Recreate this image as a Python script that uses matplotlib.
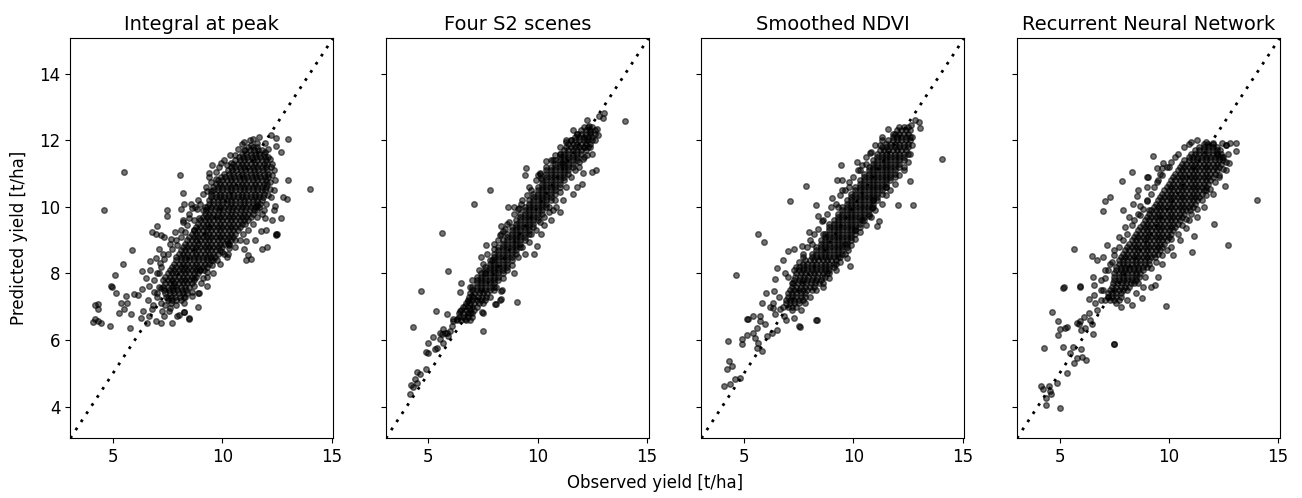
import numpy as np
import matplotlib
matplotlib.use("Agg")
import matplotlib.pyplot as plt

titles = ["Integral at peak", "Four S2 scenes", "Smoothed NDVI", "Recurrent Neural Network"]

# (observed, predicted) pairs: the scattered points
int_edge = [
    (5.5, 11.05), (4.6, 9.9), (14.0, 10.55), (13.0, 12.05), (13.0, 10.8), (12.95, 10.25), (12.8, 10.3),
    (12.5, 9.2), (12.45, 9.18), (12.05, 8.8), (11.8, 8.75), (11.2, 8.55), (11.1, 8.4), (11.3, 8.45),
    (10.2, 8.5), (10.25, 8.6), (9.9, 8.3), (9.6, 8.4), (8.5, 6.65), (8.0, 6.75), (8.25, 6.85),
    (5.8, 6.35), (4.85, 6.42), (4.2, 7.05), (4.3, 7.08), (4.3, 6.92), (4.1, 6.55), (4.2, 6.62),
    (4.3, 6.58), (4.45, 6.5), (5.1, 7.95), (5.45, 8.3), (5.88, 8.72), (4.9, 7.62), (4.95, 7.6),
    (5.13, 7.42), (8.07, 10.96), (8.22, 10.42), (12.67, 11.64), (12.44, 11.82), (12.21, 12.17),
    (12.48, 12.07), (12.39, 11.12), (12.42, 10.82), (12.39, 10.52), (12.39, 9.92), (12.67, 9.66),
    (12.42, 10.04), (12.48, 9.16), (11.78, 9.27), (11.1, 8.97), (10.26, 8.92), (10.3, 8.77),
    (11.98, 9.67), (11.6, 10.02), (11.9, 9.92), (9.39, 11.02), (9.55, 11.27), (9.47, 10.47),
    (9.32, 10.47), (9.93, 11.32), (10.38, 11.32), (8.63, 9.97), (8.56, 10.1), (8.25, 10.1),
    (8.1, 9.94), (7.46, 9.9), (7.49, 9.74), (8.19, 9.6), (8.5, 9.67), (8.86, 9.94), (8.94, 9.67),
    (7.82, 9.24), (7.0, 9.42), (6.79, 9.26), (6.96, 9.2), (7.22, 9.16), (7.34, 9.1),
    (5.36, 7.12), (5.66, 7.12), (5.51, 6.92), (5.28, 6.82), (5.82, 6.77), (5.59, 7.32), (5.97, 7.37),
    (6.27, 6.67), (6.39, 6.87), (6.65, 6.72), (6.58, 6.52), (6.96, 6.57), (6.8, 6.92), (7.26, 6.87),
    (6.15, 7.34), (6.35, 7.52), (6.65, 7.62), (6.88, 7.44), (6.5, 7.87), (6.35, 8.07), (6.7, 8.37),
    (6.96, 8.47), (7.16, 8.32), (7.34, 6.72), (7.57, 6.87), (7.95, 6.72), (8.25, 6.84), (8.48, 6.62),
    (7.72, 6.52), (7.19, 6.52), (8.25, 7.12), (8.63, 7.32), (8.94, 7.42), (8.71, 7.62), (9.01, 7.72),
    (9.29, 7.62), (7.52, 7.27), (7.67, 7.12), (7.8, 7.62), (10.99, 11.72), (11.3, 11.87),
    (11.6, 11.92), (11.98, 11.92), (6.9, 7.8), (7.1, 8.0), (7.0, 7.3), (7.2, 7.55), (6.7, 8.1),
    (7.3, 8.6), (7.1, 8.75), (6.6, 7.2), (7.4, 7.05), (6.85, 7.05), (7.6, 8.9), (7.9, 9.0),
    (8.1, 9.3), (8.4, 9.45), (8.7, 9.3), (9.1, 9.9), (8.9, 10.2), (9.2, 10.0), (9.5, 10.75),
    (9.7, 11.05), (10.1, 11.4), (10.6, 11.55), (10.9, 11.9), (11.4, 12.05), (11.7, 12.1),
    (12.1, 11.5), (12.3, 11.3), (12.2, 10.75), (12.25, 10.3), (12.3, 9.6), (12.0, 9.3), (11.5, 9.0),
    (11.0, 8.75), (10.6, 8.8), (10.0, 8.65), (9.6, 8.0), (9.3, 7.9), (8.9, 7.0), (8.7, 7.85), (9.0, 8.1),
]
# points hugging the dense centre
int_halo = [
    (7.0, 8.0), (7.2, 8.2), (7.35, 8.45), (7.5, 8.6), (7.7, 8.75), (7.65, 9.05), (7.95, 8.85),
    (8.1, 9.1), (8.3, 9.25), (8.2, 9.55), (8.5, 9.8), (8.7, 9.6), (8.75, 10.0), (9.0, 10.1),
    (9.1, 10.4), (9.25, 10.6), (9.4, 10.9), (9.7, 10.85), (9.85, 11.2), (10.2, 11.25), (10.35, 11.55),
    (10.7, 11.75), (11.0, 11.95), (11.25, 12.0), (8.9, 7.4), (9.1, 7.85), (9.3, 8.05), (9.55, 8.25),
    (9.75, 8.4), (10.1, 8.6), (10.3, 8.85), (10.8, 9.0), (10.95, 9.2), (11.2, 9.3), (11.4, 9.5),
    (11.6, 9.7), (11.8, 9.8), (12.0, 10.1), (12.1, 10.35), (12.2, 10.55), (12.3, 10.95), (12.25, 11.2),
    (12.2, 11.45), (12.1, 11.75), (11.95, 11.65), (7.2, 7.1), (7.0, 7.4), (7.1, 7.6), (7.6, 6.95),
    (7.9, 7.05), (8.3, 7.3), (8.6, 7.45),
]
# dense centre of the cloud: (predicted, [observed values at that predicted level])
int_core = [
    (7.2, [7.5, 7.7, 7.9, 8.1]),
    (7.3, [7.45, 7.65, 7.85, 8.05, 8.25]),
    (7.4, [7.4, 7.6, 7.8, 8.0, 8.2, 8.4]),
    (7.5, [7.35, 7.55, 7.75, 7.95, 8.15, 8.35]),
    (7.6, [7.3, 7.5, 7.7, 7.9, 8.1, 8.3, 8.5]),
    (7.7, [7.4, 7.6, 7.8, 8.0, 8.2, 8.4, 8.6]),
    (7.8, [7.3, 7.5, 7.7, 7.9, 8.1, 8.3, 8.5, 8.7]),
    (7.9, [7.4, 7.6, 7.8, 8.0, 8.2, 8.4, 8.6, 8.8]),
    (8.0, [7.5, 7.7, 7.9, 8.1, 8.3, 8.5, 8.7, 8.9]),
    (8.1, [7.6, 7.8, 8.0, 8.2, 8.4, 8.6, 8.8, 9.0, 9.15]),
    (8.2, [7.7, 7.9, 8.1, 8.3, 8.5, 8.7, 8.9, 9.1, 9.3]),
    (8.3, [7.8, 8.0, 8.2, 8.4, 8.6, 8.8, 9.0, 9.2, 9.4]),
    (8.4, [7.9, 8.1, 8.3, 8.5, 8.7, 8.9, 9.1, 9.3, 9.5]),
    (8.5, [7.9, 8.1, 8.3, 8.5, 8.7, 8.9, 9.1, 9.3, 9.5, 9.65]),
    (8.6, [8.0, 8.2, 8.4, 8.6, 8.8, 9.0, 9.2, 9.4, 9.6, 9.8]),
    (8.7, [8.1, 8.3, 8.5, 8.7, 8.9, 9.1, 9.3, 9.5, 9.7, 9.9]),
    (8.8, [8.2, 8.4, 8.6, 8.8, 9.0, 9.2, 9.4, 9.6, 9.8, 10.0]),
    (8.9, [8.3, 8.5, 8.7, 8.9, 9.1, 9.3, 9.5, 9.7, 9.9, 10.1, 10.3]),
    (9.0, [8.4, 8.6, 8.8, 9.0, 9.2, 9.4, 9.6, 9.8, 10.0, 10.2, 10.4, 10.6]),
    (9.1, [8.5, 8.7, 8.9, 9.1, 9.3, 9.5, 9.7, 9.9, 10.1, 10.3, 10.5]),
    (9.2, [8.6, 8.8, 9.0, 9.2, 9.4, 9.6, 9.8, 10.0, 10.2, 10.4, 10.6]),
    (9.3, [8.7, 8.9, 9.1, 9.3, 9.5, 9.7, 9.9, 10.1, 10.3, 10.5, 10.7]),
    (9.4, [8.8, 9.0, 9.2, 9.4, 9.6, 9.8, 10.0, 10.2, 10.4, 10.6, 10.8]),
    (9.5, [8.9, 9.1, 9.3, 9.5, 9.7, 9.9, 10.1, 10.3, 10.5, 10.7, 10.9, 11.05]),
    (9.6, [9.0, 9.2, 9.4, 9.6, 9.8, 10.0, 10.2, 10.4, 10.6, 10.8, 11.0, 11.2]),
    (9.7, [9.1, 9.3, 9.5, 9.7, 9.9, 10.1, 10.3, 10.5, 10.7, 10.9, 11.1, 11.3]),
    (9.8, [9.2, 9.4, 9.6, 9.8, 10.0, 10.2, 10.4, 10.6, 10.8, 11.0, 11.2, 11.4]),
    (9.9, [9.25, 9.45, 9.65, 9.85, 10.05, 10.25, 10.45, 10.65, 10.85, 11.05, 11.25, 11.45, 11.6]),
    (10.0, [9.3, 9.5, 9.7, 9.9, 10.1, 10.3, 10.5, 10.7, 10.9, 11.1, 11.3, 11.5, 11.7]),
    (10.1, [9.4, 9.6, 9.8, 10.0, 10.2, 10.4, 10.6, 10.8, 11.0, 11.2, 11.4, 11.6, 11.75]),
    (10.2, [9.4, 9.6, 9.8, 10.0, 10.2, 10.4, 10.6, 10.8, 11.0, 11.2, 11.4, 11.6, 11.8]),
    (10.3, [9.5, 9.7, 9.9, 10.1, 10.3, 10.5, 10.7, 10.9, 11.1, 11.3, 11.5, 11.7, 11.85]),
    (10.4, [9.5, 9.7, 9.9, 10.1, 10.3, 10.5, 10.7, 10.9, 11.1, 11.3, 11.5, 11.7, 11.9]),
    (10.5, [9.6, 9.8, 10.0, 10.2, 10.4, 10.6, 10.8, 11.0, 11.2, 11.4, 11.6, 11.8, 11.95]),
    (10.6, [9.6, 9.8, 10.0, 10.2, 10.4, 10.6, 10.8, 11.0, 11.2, 11.4, 11.6, 11.8, 12.0]),
    (10.7, [9.7, 9.9, 10.1, 10.3, 10.5, 10.7, 10.9, 11.1, 11.3, 11.5, 11.7, 11.9, 12.05]),
    (10.8, [9.8, 10.0, 10.2, 10.4, 10.6, 10.8, 11.0, 11.2, 11.4, 11.6, 11.8, 12.0]),
    (10.9, [9.95, 10.15, 10.35, 10.55, 10.75, 10.95, 11.15, 11.35, 11.55, 11.75, 11.95, 12.1]),
    (11.0, [10.1, 10.3, 10.5, 10.7, 10.9, 11.1, 11.3, 11.5, 11.7, 11.9, 12.1]),
    (11.1, [10.25, 10.45, 10.65, 10.85, 11.05, 11.25, 11.45, 11.65, 11.85, 12.05]),
    (11.2, [10.4, 10.6, 10.8, 11.0, 11.2, 11.4, 11.6, 11.8, 12.0]),
    (11.3, [10.5, 10.7, 10.9, 11.1, 11.3, 11.5, 11.7, 11.9, 12.05]),
    (11.4, [10.6, 10.8, 11.0, 11.2, 11.4, 11.6, 11.8, 12.0]),
    (11.5, [10.75, 10.95, 11.15, 11.35, 11.55, 11.75, 11.95]),
    (11.6, [10.9, 11.1, 11.3, 11.5, 11.7, 11.9]),
    (11.7, [11.05, 11.25, 11.45, 11.65, 11.8]),
    (11.8, [11.2, 11.4, 11.6]),
]

s2_edge = [
    (13.99, 12.58), (13.03, 12.82), (12.99, 12.67), (12.8, 12.72), (12.27, 12.62), (12.35, 12.42),
    (12.77, 12.17), (12.47, 11.6), (12.27, 11.57), (12.05, 11.44), (12.65, 11.1), (12.5, 11.04),
    (12.05, 11.02), (12.02, 10.7), (11.29, 11.94), (10.38, 11.37), (10.71, 11.42), (11.11, 11.32),
    (9.44, 11.16), (9.43, 10.97), (10.08, 11.02), (10.15, 10.87), (7.83, 10.52), (7.08, 10.1),
    (8.64, 9.99), (9.25, 10.1), (9.15, 9.98), (5.62, 9.22), (7.62, 8.85), (8.34, 9.42), (8.41, 9.27),
    (8.26, 9.17), (5.91, 8.06), (4.65, 7.48), (5.35, 6.86), (4.29, 6.38), (7.5, 6.28), (8.11, 7.08),
    (8.3, 7.22), (9.05, 7.14), (8.33, 7.48), (6.44, 7.44), (6.47, 7.72), (7.5, 6.82), (6.9, 6.82),
    (6.67, 6.62), (5.83, 6.77), (6.14, 6.62), (6.06, 6.42), (5.83, 6.22), (5.23, 6.1), (5.53, 6.22),
    (5.65, 6.32), (4.97, 5.92), (4.9, 5.64), (5.0, 5.6), (5.3, 5.72), (5.41, 5.77), (4.9, 5.14),
    (4.62, 4.97), (4.47, 5.04), (4.37, 4.82), (4.2, 4.64), (4.27, 4.6), (4.14, 4.37), (4.47, 4.72),
    (5.61, 6.17), (5.76, 6.22), (5.99, 6.27), (5.91, 6.12), (5.53, 6.02), (5.68, 5.92), (6.14, 6.57),
    (6.29, 6.62), (6.44, 6.87), (6.67, 7.02), (6.82, 7.17), (6.97, 7.32), (8.03, 7.07), (8.29, 7.19),
    (8.38, 7.49), (7.47, 6.84), (9.84, 8.6), (10.15, 9.2), (10.3, 9.45), (10.7, 9.9), (11.0, 9.85),
    (11.15, 10.2), (11.6, 10.4), (11.8, 10.6), (10.85, 10.0), (10.6, 9.6), (9.95, 8.82), (9.4, 8.6),
    (8.9, 8.0), (7.9, 8.4), (7.6, 8.0), (7.2, 7.9), (6.9, 7.6), (7.4, 8.5), (8.0, 8.9), (8.6, 9.5),
    (8.9, 10.0), (9.6, 10.6), (10.0, 10.95), (10.4, 11.2), (11.0, 11.6), (11.5, 12.0), (11.8, 12.2),
    (12.2, 12.0), (12.4, 12.25), (11.9, 11.2), (12.1, 11.8), (10.5, 10.0), (9.7, 9.2),
]
s2_halo = [
    (7.0, 7.8), (7.3, 8.1), (7.5, 8.3), (7.7, 8.6), (8.0, 8.75), (8.2, 9.0), (8.3, 9.2), (8.5, 9.35),
    (8.7, 9.55), (8.9, 9.8), (9.1, 9.95), (9.3, 10.2), (9.5, 10.35), (9.7, 10.5), (9.9, 10.8),
    (10.1, 11.0), (10.4, 11.1), (10.6, 11.4), (10.8, 11.55), (11.0, 11.8), (11.3, 12.0), (11.6, 12.3),
    (7.8, 7.3), (8.1, 7.6), (8.4, 7.85), (8.6, 8.1), (8.8, 8.25), (9.1, 8.5), (9.3, 8.8), (9.6, 8.95),
    (9.9, 9.3), (10.1, 9.55), (10.3, 9.7), (10.5, 9.85), (10.8, 10.2), (11.0, 10.45), (11.3, 10.6),
    (11.5, 10.9), (11.7, 11.1), (11.9, 11.35), (12.1, 11.5), (12.4, 11.8), (12.6, 12.0), (12.7, 12.35),
]
s2_core = [
    (6.6, [6.3, 6.5, 6.7, 6.9]),
    (6.7, [6.4, 6.6, 6.8, 7.0]),
    (6.8, [6.4, 6.6, 6.8, 7.0]),
    (6.9, [6.5, 6.7, 6.9, 7.1]),
    (7.0, [6.6, 6.8, 7.0, 7.2]),
    (7.1, [6.7, 6.9, 7.1, 7.3, 7.5]),
    (7.2, [6.8, 7.0, 7.2, 7.4, 7.6]),
    (7.3, [6.85, 7.05, 7.25, 7.45, 7.65]),
    (7.4, [6.9, 7.1, 7.3, 7.5, 7.7]),
    (7.5, [7.0, 7.2, 7.4, 7.6, 7.8, 8.0]),
    (7.6, [7.0, 7.2, 7.4, 7.6, 7.8, 8.0]),
    (7.7, [7.2, 7.4, 7.6, 7.8, 8.0]),
    (7.8, [7.2, 7.4, 7.6, 7.8, 8.0, 8.2]),
    (7.9, [7.4, 7.6, 7.8, 8.0, 8.2]),
    (8.0, [7.4, 7.6, 7.8, 8.0, 8.2, 8.4]),
    (8.1, [7.6, 7.8, 8.0, 8.2, 8.4]),
    (8.2, [7.6, 7.8, 8.0, 8.2, 8.4, 8.6]),
    (8.3, [7.8, 8.0, 8.2, 8.4, 8.6]),
    (8.4, [7.8, 8.0, 8.2, 8.4, 8.6, 8.8]),
    (8.5, [8.0, 8.2, 8.4, 8.6, 8.8]),
    (8.6, [8.0, 8.2, 8.4, 8.6, 8.8, 9.0]),
    (8.7, [8.2, 8.4, 8.6, 8.8, 9.0]),
    (8.8, [8.2, 8.4, 8.6, 8.8, 9.0, 9.2]),
    (8.9, [8.4, 8.6, 8.8, 9.0, 9.2]),
    (9.0, [8.4, 8.6, 8.8, 9.0, 9.2, 9.4]),
    (9.1, [8.6, 8.8, 9.0, 9.2, 9.4]),
    (9.2, [8.6, 8.8, 9.0, 9.2, 9.4, 9.6]),
    (9.3, [8.8, 9.0, 9.2, 9.4, 9.6]),
    (9.4, [8.8, 9.0, 9.2, 9.4, 9.6, 9.8]),
    (9.5, [9.0, 9.2, 9.4, 9.6, 9.8]),
    (9.6, [9.0, 9.2, 9.4, 9.6, 9.8, 10.0]),
    (9.7, [9.2, 9.4, 9.6, 9.8, 10.0]),
    (9.8, [9.2, 9.4, 9.6, 9.8, 10.0, 10.2]),
    (9.9, [9.4, 9.6, 9.8, 10.0, 10.2]),
    (10.0, [9.4, 9.6, 9.8, 10.0, 10.2, 10.4]),
    (10.1, [9.6, 9.8, 10.0, 10.2, 10.4]),
    (10.2, [9.6, 9.8, 10.0, 10.2, 10.4, 10.6]),
    (10.3, [9.8, 10.0, 10.2, 10.4, 10.6]),
    (10.4, [9.8, 10.0, 10.2, 10.4, 10.6, 10.8]),
    (10.5, [10.0, 10.2, 10.4, 10.6, 10.8]),
    (10.6, [10.0, 10.2, 10.4, 10.6, 10.8, 11.0]),
    (10.7, [10.2, 10.4, 10.6, 10.8, 11.0]),
    (10.8, [10.2, 10.4, 10.6, 10.8, 11.0, 11.2]),
    (10.9, [10.4, 10.6, 10.8, 11.0, 11.2]),
    (11.0, [10.4, 10.6, 10.8, 11.0, 11.2, 11.4]),
    (11.1, [10.6, 10.8, 11.0, 11.2, 11.4]),
    (11.2, [10.6, 10.8, 11.0, 11.2, 11.4, 11.6]),
    (11.3, [10.8, 11.0, 11.2, 11.4, 11.6]),
    (11.4, [10.8, 11.0, 11.2, 11.4, 11.6, 11.8]),
    (11.5, [11.0, 11.2, 11.4, 11.6, 11.8]),
    (11.6, [11.0, 11.2, 11.4, 11.6, 11.8, 12.0]),
    (11.7, [11.2, 11.4, 11.6, 11.8, 12.0, 12.2]),
    (11.8, [11.3, 11.5, 11.7, 11.9, 12.1, 12.3]),
    (11.9, [11.4, 11.6, 11.8, 12.0, 12.2, 12.4]),
    (12.0, [11.5, 11.7, 11.9, 12.1, 12.3, 12.5]),
    (12.1, [11.7, 11.9, 12.1, 12.3, 12.5]),
    (12.2, [11.8, 12.0, 12.2, 12.4, 12.6]),
    (12.3, [12.0, 12.2, 12.4, 12.6]),
    (12.4, [12.1, 12.3, 12.5]),
]

ndvi_edge = [
    (14.04, 11.44), (13.05, 12.37), (13.0, 12.54), (12.82, 12.6), (12.59, 10.77), (12.06, 10.07),
    (12.71, 10.07), (11.21, 11.86), (10.75, 11.62), (10.15, 11.36), (9.44, 11.26), (9.24, 10.82),
    (9.47, 10.82), (9.47, 10.52), (9.04, 10.26), (7.85, 10.64), (7.09, 10.18), (8.28, 10.07),
    (8.4, 9.72), (8.55, 9.57), (7.97, 9.24), (5.63, 9.18), (5.93, 8.96), (4.62, 7.94), (9.85, 8.22),
    (9.71, 8.47), (9.74, 8.72), (10.72, 9.72), (10.84, 9.97), (11.07, 9.42), (11.17, 9.59),
    (8.33, 6.59), (7.52, 6.42), (7.56, 6.4), (7.03, 8.67), (7.3, 8.74), (7.67, 8.82), (6.8, 8.42),
    (6.5, 8.17), (6.88, 8.02), (6.42, 7.82), (6.39, 7.47), (6.34, 7.12), (5.84, 7.1), (5.73, 6.72),
    (5.2, 6.62), (4.29, 5.97), (4.33, 5.37), (4.2, 5.12), (4.44, 5.22), (4.09, 4.62), (4.36, 4.67),
    (4.59, 4.82), (4.82, 4.87), (4.9, 5.87), (4.93, 6.02), (5.12, 6.14), (5.43, 6.22), (5.51, 6.07),
    (5.58, 5.77), (5.66, 5.92), (5.81, 5.67), (5.15, 6.62), (5.43, 6.72), (5.61, 6.35), (5.73, 6.57),
    (5.96, 6.47), (6.04, 6.12), (6.27, 6.22), (6.5, 6.3), (6.34, 6.97), (6.42, 6.77), (6.65, 6.92),
    (6.83, 6.72), (8.29, 6.6), (6.0, 7.4), (6.2, 7.0), (6.6, 7.3), (7.0, 7.9), (7.2, 6.9), (6.9, 6.6),
    (7.3, 6.65), (7.6, 6.9), (7.8, 7.1), (8.0, 7.3), (8.3, 7.5), (8.6, 7.7), (8.9, 8.0), (9.2, 8.3),
    (9.4, 8.5), (9.6, 8.9), (10.1, 9.3), (10.4, 9.6), (10.9, 10.2), (11.5, 10.6), (11.9, 10.9),
    (12.3, 11.2), (12.5, 11.6), (12.7, 12.1), (12.65, 12.45), (11.8, 12.2), (11.3, 12.0), (10.6, 11.3),
    (10.3, 11.1), (9.8, 10.6), (9.3, 10.0), (8.9, 9.5), (8.6, 9.2), (8.1, 8.9), (7.7, 8.5), (7.4, 8.2),
    (7.2, 7.7),
]
ndvi_halo = [
    (7.3, 8.1), (7.5, 8.35), (7.7, 8.6), (7.9, 8.8), (8.0, 9.0), (8.2, 9.2), (8.4, 9.35), (8.6, 9.6),
    (8.8, 9.8), (9.0, 10.0), (9.2, 10.1), (9.4, 10.35), (9.6, 10.5), (9.8, 10.75), (10.0, 10.9),
    (10.2, 11.1), (10.4, 11.25), (10.6, 11.5), (10.8, 11.65), (11.0, 11.85), (11.3, 12.1), (11.6, 12.35),
    (8.6, 7.6), (8.9, 7.85), (9.2, 8.1), (9.4, 8.35), (9.6, 8.6), (9.9, 8.85), (10.1, 9.05), (10.3, 9.25),
    (10.6, 9.45), (10.8, 9.7), (11.0, 9.9), (11.3, 10.1), (11.5, 10.35), (11.7, 10.5), (11.9, 10.7),
    (12.1, 10.95), (12.3, 11.1), (12.5, 11.35), (12.6, 11.6), (12.7, 11.85),
]
ndvi_core = [
    (7.0, [6.8, 7.0, 7.2, 7.4]),
    (7.1, [6.9, 7.1, 7.3, 7.5]),
    (7.2, [6.9, 7.1, 7.3, 7.5, 7.7]),
    (7.3, [7.0, 7.2, 7.4, 7.6, 7.8]),
    (7.4, [7.0, 7.2, 7.4, 7.6, 7.8]),
    (7.5, [7.1, 7.3, 7.5, 7.7, 7.9, 8.1]),
    (7.6, [7.2, 7.4, 7.6, 7.8, 8.0, 8.2]),
    (7.7, [7.25, 7.45, 7.65, 7.85, 8.05, 8.25, 8.45]),
    (7.8, [7.3, 7.5, 7.7, 7.9, 8.1, 8.3, 8.5]),
    (7.9, [7.35, 7.55, 7.75, 7.95, 8.15, 8.35, 8.55, 8.7]),
    (8.0, [7.4, 7.6, 7.8, 8.0, 8.2, 8.4, 8.6, 8.8]),
    (8.1, [7.5, 7.7, 7.9, 8.1, 8.3, 8.5, 8.7, 8.9]),
    (8.2, [7.5, 7.7, 7.9, 8.1, 8.3, 8.5, 8.7, 8.9, 9.1]),
    (8.3, [7.7, 7.9, 8.1, 8.3, 8.5, 8.7, 8.9, 9.1]),
    (8.4, [7.8, 8.0, 8.2, 8.4, 8.6, 8.8, 9.0, 9.2]),
    (8.5, [8.1, 8.3, 8.5, 8.7, 8.9, 9.1, 9.3]),
    (8.6, [8.1, 8.3, 8.5, 8.7, 8.9, 9.1, 9.3, 9.5]),
    (8.7, [8.3, 8.5, 8.7, 8.9, 9.1, 9.3, 9.5]),
    (8.8, [8.3, 8.5, 8.7, 8.9, 9.1, 9.3, 9.5, 9.7]),
    (8.9, [8.5, 8.7, 8.9, 9.1, 9.3, 9.5, 9.7]),
    (9.0, [8.5, 8.7, 8.9, 9.1, 9.3, 9.5, 9.7, 9.9]),
    (9.1, [8.7, 8.9, 9.1, 9.3, 9.5, 9.7, 9.9]),
    (9.2, [8.7, 8.9, 9.1, 9.3, 9.5, 9.7, 9.9, 10.1]),
    (9.3, [8.9, 9.1, 9.3, 9.5, 9.7, 9.9, 10.1]),
    (9.4, [8.9, 9.1, 9.3, 9.5, 9.7, 9.9, 10.1, 10.3]),
    (9.5, [9.1, 9.3, 9.5, 9.7, 9.9, 10.1, 10.3]),
    (9.6, [9.1, 9.3, 9.5, 9.7, 9.9, 10.1, 10.3, 10.5]),
    (9.7, [9.3, 9.5, 9.7, 9.9, 10.1, 10.3, 10.5]),
    (9.8, [9.3, 9.5, 9.7, 9.9, 10.1, 10.3, 10.5, 10.7]),
    (9.9, [9.5, 9.7, 9.9, 10.1, 10.3, 10.5, 10.7]),
    (10.0, [9.5, 9.7, 9.9, 10.1, 10.3, 10.5, 10.7, 10.9]),
    (10.1, [9.7, 9.9, 10.1, 10.3, 10.5, 10.7, 10.9]),
    (10.2, [9.7, 9.9, 10.1, 10.3, 10.5, 10.7, 10.9, 11.1]),
    (10.3, [9.9, 10.1, 10.3, 10.5, 10.7, 10.9, 11.1]),
    (10.4, [9.9, 10.1, 10.3, 10.5, 10.7, 10.9, 11.1, 11.3]),
    (10.5, [10.1, 10.3, 10.5, 10.7, 10.9, 11.1, 11.3]),
    (10.6, [10.1, 10.3, 10.5, 10.7, 10.9, 11.1, 11.3, 11.5]),
    (10.7, [10.3, 10.5, 10.7, 10.9, 11.1, 11.3, 11.5]),
    (10.8, [10.3, 10.5, 10.7, 10.9, 11.1, 11.3, 11.5, 11.7]),
    (10.9, [10.5, 10.7, 10.9, 11.1, 11.3, 11.5, 11.7]),
    (11.0, [10.5, 10.7, 10.9, 11.1, 11.3, 11.5, 11.7, 11.9]),
    (11.1, [10.7, 10.9, 11.1, 11.3, 11.5, 11.7, 11.9]),
    (11.2, [10.7, 10.9, 11.1, 11.3, 11.5, 11.7, 11.9, 12.1]),
    (11.3, [10.9, 11.1, 11.3, 11.5, 11.7, 11.9, 12.1]),
    (11.4, [10.9, 11.1, 11.3, 11.5, 11.7, 11.9, 12.1, 12.3]),
    (11.5, [11.1, 11.3, 11.5, 11.7, 11.9, 12.1, 12.3]),
    (11.6, [11.1, 11.3, 11.5, 11.7, 11.9, 12.1, 12.3]),
    (11.7, [11.2, 11.4, 11.6, 11.8, 12.0, 12.2, 12.4]),
    (11.8, [11.3, 11.5, 11.7, 11.9, 12.1, 12.3, 12.5]),
    (11.9, [11.5, 11.7, 11.9, 12.1, 12.3, 12.5]),
    (12.0, [11.6, 11.8, 12.0, 12.2, 12.4, 12.6]),
    (12.1, [11.8, 12.0, 12.2, 12.4, 12.6]),
    (12.2, [11.9, 12.1, 12.3, 12.5]),
    (12.3, [12.0, 12.2, 12.4, 12.6]),
    (12.4, [12.1, 12.3, 12.5]),
]

rnn_edge = [
    (14.02, 10.22), (12.7, 8.87), (12.05, 9.5), (12.55, 10.64), (13.08, 11.92), (13.08, 11.67),
    (12.78, 11.92), (12.63, 11.87), (12.44, 11.92), (12.02, 11.92), (12.75, 11.32), (11.69, 10.52),
    (10.8, 9.37), (11.14, 9.12), (11.08, 8.64), (10.17, 8.57), (9.86, 7.02), (8.76, 7.27), (8.3, 7.04),
    (9.26, 11.54), (8.3, 11.04), (7.85, 10.77), (9.02, 10.9), (9.03, 10.9), (9.44, 11.17),
    (9.74, 11.32), (9.67, 11.17), (9.44, 10.74), (6.98, 9.87), (7.09, 10.17), (7.31, 10.3),
    (8.35, 10.1), (8.53, 10.32), (8.68, 10.02), (8.68, 9.77), (8.98, 10.17), (9.1, 9.92),
    (5.65, 8.74), (7.16, 8.87), (6.48, 8.52), (6.71, 8.4), (5.16, 7.57), (5.95, 7.62),
    (4.66, 6.85), (4.93, 6.57), (5.01, 6.32), (5.27, 6.37), (4.92, 6.14), (5.34, 6.39),
    (4.28, 5.75), (4.13, 4.62), (4.25, 4.52), (4.51, 4.62), (4.55, 4.47), (4.36, 4.27), (4.61, 4.37),
    (4.39, 4.04), (5.01, 3.95), (4.89, 4.7), (5.16, 5.79), (5.34, 5.02), (5.62, 5.79), (5.65, 5.3),
    (5.49, 5.62), (5.8, 5.47), (5.98, 5.72), (6.03, 5.5), (6.22, 5.39), (5.19, 7.59), (5.92, 7.6),
    (6.53, 7.89), (6.56, 7.64), (6.56, 7.34), (6.33, 7.24), (6.63, 7.1), (7.5, 5.87), (7.51, 5.88),
    (9.39, 7.65), (5.87, 6.47), (5.8, 6.52), (5.95, 6.57), (6.18, 6.37), (6.33, 6.82), (6.48, 6.47),
    (6.53, 6.17), (6.0, 6.3), (6.1, 6.7), (6.4, 6.6), (6.7, 6.9), (6.9, 7.2), (7.0, 7.5), (7.2, 7.3),
    (6.9, 7.8), (7.1, 8.1), (7.3, 8.3), (7.0, 8.5), (7.5, 8.7), (7.7, 9.1), (8.0, 9.4), (8.2, 9.7),
    (7.9, 9.9), (8.6, 10.5), (9.0, 10.6), (9.6, 11.0), (10.0, 11.2), (10.3, 11.5), (10.9, 11.9),
    (11.3, 12.0), (11.7, 11.95), (12.2, 11.6), (12.5, 11.5), (12.6, 11.1), (12.3, 10.9), (12.0, 10.4),
    (11.6, 10.0), (11.3, 9.7), (10.9, 9.6), (10.5, 9.0), (10.1, 8.8), (9.7, 8.3), (9.5, 7.9),
    (9.2, 7.6), (8.8, 7.6), (8.5, 7.4), (8.1, 7.2), (7.8, 7.0), (7.6, 7.1),
]
rnn_halo = [
    (6.9, 7.5), (7.1, 7.85), (7.2, 8.1), (7.4, 8.35), (7.5, 8.55), (7.7, 8.8), (7.9, 9.0), (8.1, 9.2),
    (8.3, 9.45), (8.4, 9.6), (8.6, 9.8), (8.8, 9.95), (9.0, 10.2), (9.2, 10.4), (9.3, 10.6), (9.5, 10.8),
    (9.7, 10.95), (9.9, 11.2), (10.1, 11.35), (10.4, 11.6), (10.7, 11.8), (11.0, 11.95),
    (8.6, 7.7), (8.9, 7.9), (9.2, 8.15), (9.4, 8.35), (9.7, 8.55), (9.9, 8.7), (10.1, 9.05), (10.4, 9.2),
    (10.6, 9.45), (10.8, 9.65), (11.0, 9.8), (11.3, 9.95), (11.5, 10.2), (11.7, 10.35), (11.9, 10.55),
    (12.1, 10.75), (12.3, 10.95), (12.5, 11.15), (12.6, 11.35), (12.7, 11.6), (12.6, 11.85),
]
rnn_core = [
    (7.2, [7.1, 7.3, 7.5, 7.7]),
    (7.3, [7.2, 7.4, 7.6, 7.8]),
    (7.4, [7.2, 7.4, 7.6, 7.8]),
    (7.5, [7.3, 7.5, 7.7, 7.9, 8.1]),
    (7.6, [7.4, 7.6, 7.8, 8.0, 8.2]),
    (7.7, [7.45, 7.65, 7.85, 8.05, 8.25, 8.4]),
    (7.8, [7.5, 7.7, 7.9, 8.1, 8.3, 8.5]),
    (7.9, [7.5, 7.7, 7.9, 8.1, 8.3, 8.5, 8.65]),
    (8.0, [7.5, 7.7, 7.9, 8.1, 8.3, 8.5, 8.7]),
    (8.1, [7.6, 7.8, 8.0, 8.2, 8.4, 8.6, 8.8]),
    (8.2, [7.6, 7.8, 8.0, 8.2, 8.4, 8.6, 8.8, 9.0]),
    (8.3, [7.7, 7.9, 8.1, 8.3, 8.5, 8.7, 8.9, 9.1]),
    (8.4, [7.7, 7.9, 8.1, 8.3, 8.5, 8.7, 8.9, 9.1]),
    (8.5, [7.8, 8.0, 8.2, 8.4, 8.6, 8.8, 9.0, 9.2, 9.35]),
    (8.6, [7.9, 8.1, 8.3, 8.5, 8.7, 8.9, 9.1, 9.3, 9.5]),
    (8.7, [8.0, 8.2, 8.4, 8.6, 8.8, 9.0, 9.2, 9.4, 9.6]),
    (8.8, [8.1, 8.3, 8.5, 8.7, 8.9, 9.1, 9.3, 9.5, 9.7]),
    (8.9, [8.2, 8.4, 8.6, 8.8, 9.0, 9.2, 9.4, 9.6, 9.8]),
    (9.0, [8.3, 8.5, 8.7, 8.9, 9.1, 9.3, 9.5, 9.7, 9.9]),
    (9.1, [8.4, 8.6, 8.8, 9.0, 9.2, 9.4, 9.6, 9.8, 10.0]),
    (9.2, [8.5, 8.7, 8.9, 9.1, 9.3, 9.5, 9.7, 9.9, 10.1]),
    (9.3, [8.6, 8.8, 9.0, 9.2, 9.4, 9.6, 9.8, 10.0, 10.2]),
    (9.4, [8.7, 8.9, 9.1, 9.3, 9.5, 9.7, 9.9, 10.1, 10.3]),
    (9.5, [8.8, 9.0, 9.2, 9.4, 9.6, 9.8, 10.0, 10.2, 10.4]),
    (9.6, [8.9, 9.1, 9.3, 9.5, 9.7, 9.9, 10.1, 10.3, 10.5]),
    (9.7, [9.0, 9.2, 9.4, 9.6, 9.8, 10.0, 10.2, 10.4, 10.6]),
    (9.8, [9.1, 9.3, 9.5, 9.7, 9.9, 10.1, 10.3, 10.5, 10.7]),
    (9.9, [9.2, 9.4, 9.6, 9.8, 10.0, 10.2, 10.4, 10.6, 10.8, 10.95]),
    (10.0, [9.3, 9.5, 9.7, 9.9, 10.1, 10.3, 10.5, 10.7, 10.9, 11.1]),
    (10.1, [9.4, 9.6, 9.8, 10.0, 10.2, 10.4, 10.6, 10.8, 11.0, 11.2]),
    (10.2, [9.5, 9.7, 9.9, 10.1, 10.3, 10.5, 10.7, 10.9, 11.1, 11.3]),
    (10.3, [9.6, 9.8, 10.0, 10.2, 10.4, 10.6, 10.8, 11.0, 11.2, 11.4]),
    (10.4, [9.7, 9.9, 10.1, 10.3, 10.5, 10.7, 10.9, 11.1, 11.3, 11.5]),
    (10.5, [9.8, 10.0, 10.2, 10.4, 10.6, 10.8, 11.0, 11.2, 11.4, 11.6]),
    (10.6, [9.9, 10.1, 10.3, 10.5, 10.7, 10.9, 11.1, 11.3, 11.5, 11.7]),
    (10.7, [10.0, 10.2, 10.4, 10.6, 10.8, 11.0, 11.2, 11.4, 11.6, 11.8]),
    (10.8, [10.1, 10.3, 10.5, 10.7, 10.9, 11.1, 11.3, 11.5, 11.7, 11.9]),
    (10.9, [10.2, 10.4, 10.6, 10.8, 11.0, 11.2, 11.4, 11.6, 11.8, 12.0]),
    (11.0, [10.3, 10.5, 10.7, 10.9, 11.1, 11.3, 11.5, 11.7, 11.9, 12.1]),
    (11.1, [10.4, 10.6, 10.8, 11.0, 11.2, 11.4, 11.6, 11.8, 12.0, 12.2]),
    (11.2, [10.5, 10.7, 10.9, 11.1, 11.3, 11.5, 11.7, 11.9, 12.1, 12.3]),
    (11.3, [10.6, 10.8, 11.0, 11.2, 11.4, 11.6, 11.8, 12.0, 12.2, 12.4]),
    (11.4, [10.7, 10.9, 11.1, 11.3, 11.5, 11.7, 11.9, 12.1, 12.3, 12.5]),
    (11.5, [10.9, 11.1, 11.3, 11.5, 11.7, 11.9, 12.1, 12.3, 12.45]),
    (11.6, [11.0, 11.2, 11.4, 11.6, 11.8, 12.0, 12.2, 12.4]),
    (11.7, [11.2, 11.4, 11.6, 11.8, 12.0, 12.2, 12.35]),
    (11.8, [11.4, 11.6, 11.8, 12.0, 12.2]),
    (11.9, [11.6, 11.8, 12.0]),
]


def all_points(edge, halo, core):
    pts = list(edge) + list(halo)
    for pred, obs_list in core:
        pts += [(o, pred) for o in obs_list]
    return np.array(pts)


panels = [all_points(int_edge, int_halo, int_core), all_points(s2_edge, s2_halo, s2_core),
          all_points(ndvi_edge, ndvi_halo, ndvi_core), all_points(rnn_edge, rnn_halo, rnn_core)]
lims = (3.05, 15.08)

fig, axes = plt.subplots(1, 4, figsize=(13.02, 4.98), dpi=100, sharey=True)
plt.subplots_adjust(left=0.054, right=0.983, top=0.924, bottom=0.12, wspace=0.2)

for ax, title, pts in zip(axes, titles, panels):
    ax.scatter(pts[:, 0], pts[:, 1], s=16, c="k", alpha=0.55)
    ax.plot(lims, lims, color="k", lw=2, linestyle=(0, (1, 2.5)))
    ax.set_xlim(lims)
    ax.set_ylim(lims)
    ax.set_xticks([5, 10, 15])
    ax.set_yticks([4, 6, 8, 10, 12, 14])
    ax.tick_params(labelsize=12)
    ax.set_title(title, fontsize=14)

axes[0].set_ylabel("Predicted yield [t/ha]", fontsize=12, labelpad=8)
fig.text(0.503, 0.03, "Observed yield [t/ha]", ha="center", va="center", fontsize=12)

plt.savefig("out.png", dpi=100)
